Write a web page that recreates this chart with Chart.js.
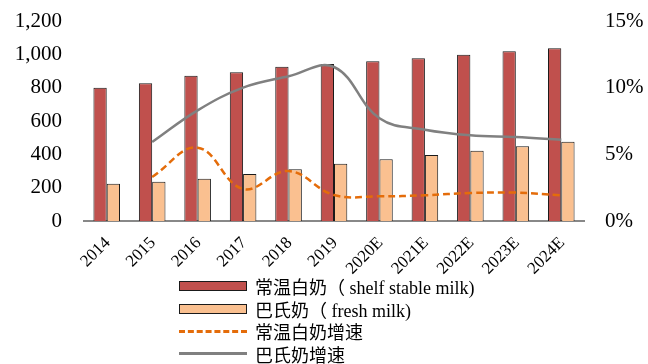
<!DOCTYPE html>
<html>
<head>
<meta charset="utf-8">
<script src="https://cdn.jsdelivr.net/npm/chart.js@4/dist/chart.umd.min.js"></script>
<style>
  html, body { margin: 0; padding: 0; background: #fff; }
  #wrap { position: relative; width: 648px; height: 364px; }
  #legend {
    position: absolute; left: 179px; top: 275px;
    font-family: 'Liberation Serif', 'Noto Sans CJK SC', serif; font-size: 18px; color: #000;
  }
  #legend .row { display: flex; align-items: center; height: 22.5px; white-space: nowrap; }
  #legend .sw { width: 68px; margin-right: 8px; box-sizing: border-box; }
</style>
</head>
<body>
<div id="wrap">
  <canvas id="chart" width="648" height="364"></canvas>
  <div id="legend"></div>
</div>
<script>
// values
const years = ['2014', '2015', '2016', '2017', '2018', '2019', '2020E', '2021E', '2022E', '2023E', '2024E'];
const shelfMilk = [800, 826, 872, 892, 926, 942, 958, 976, 998, 1018, 1036];
const freshMilk = [224, 236, 254, 282, 310, 344, 370, 396, 422, 448, 476];
const shelfGrowth = [null, 3.3, 5.5, 2.4, 3.75, 1.95, 1.85, 1.93, 2.1, 2.13, 1.93];
const freshGrowth = [null, 5.93, 8.3, 10.0, 10.85, 11.55, 7.7, 6.85, 6.43, 6.3, 6.1];

const serif = "'Liberation Serif', 'Noto Sans CJK SC', serif";

// fixed axis widths, and drop the tick padding chart.js adds above the top label
const fitY = (w) => (s) => {
  s.width = w;
  s.paddingTop = 11;
  s.paddingBottom = 0;
};

const ctx = document.getElementById('chart').getContext('2d');
const chart = new Chart(ctx, {
  type: 'bar',
  data: {
    labels: years,
    datasets: [
      {
        label: '常温白奶（ shelf stable milk)',
        data: shelfMilk,
        backgroundColor: '#C0504D',
        borderColor: '#1a1a1a',
        borderWidth: 1,
        barPercentage: 1,
        categoryPercentage: 0.585,
        yAxisID: 'y',
        order: 2,
      },
      {
        label: '巴氏奶（ fresh milk)',
        data: freshMilk,
        backgroundColor: '#FAC090',
        borderColor: '#1a1a1a',
        borderWidth: 1,
        barPercentage: 1,
        categoryPercentage: 0.585,
        yAxisID: 'y',
        order: 2,
      },
      {
        type: 'line',
        label: '常温白奶增速',
        data: shelfGrowth,
        borderColor: '#E46C0A',
        borderWidth: 2.5,
        borderDash: [7, 4],
        pointRadius: 0,
        tension: 0.4,
        fill: false,
        yAxisID: 'y1',
        order: 1,
      },
      {
        type: 'line',
        label: '巴氏奶增速',
        data: freshGrowth,
        borderColor: '#808080',
        borderWidth: 2.5,
        pointRadius: 0,
        tension: 0.4,
        fill: false,
        yAxisID: 'y1',
        order: 0,
      },
    ],
  },
  options: {
    responsive: false,
    animation: false,
    layout: { padding: { top: 21, bottom: 83, left: 0, right: 0 } },
    plugins: { legend: { display: false }, tooltip: { enabled: false } },
    scales: {
      x: {
        grid: { display: false, drawTicks: false },
        border: { display: true, color: '#888', width: 2 },
        ticks: {
          font: { family: serif, size: 17 },
          color: '#000',
          minRotation: 45,
          maxRotation: 45,
          autoSkip: false,
          padding: 12,
          labelOffset: 1,
        },
        afterFit: (s) => { s.height = 60; },
      },
      y: {
        position: 'left',
        min: 0,
        max: 1200,
        grid: { display: false, drawTicks: false },
        border: { display: false },
        ticks: {
          stepSize: 200,
          padding: 22,
          color: '#000',
          font: { family: serif, size: 21 },
          callback: (v) => Number(v).toLocaleString('en-US'),
        },
        afterFit: fitY(84),
      },
      y1: {
        position: 'right',
        min: 0,
        max: 15,
        grid: { display: false, drawTicks: false },
        border: { display: false },
        ticks: {
          stepSize: 5,
          padding: 21,
          color: '#000',
          font: { family: serif, size: 21 },
          callback: (v) => v + '%',
        },
        afterFit: fitY(64),
      },
    },
  },
});

// legend in a single column under the chart, built from the datasets
const legendEl = document.getElementById('legend');
chart.data.datasets.forEach((ds) => {
  const row = document.createElement('div');
  row.className = 'row';
  const sw = document.createElement('div');
  sw.className = 'sw';
  if (ds.type === 'line') {
    sw.style.height = '0';
    sw.style.borderTop = '3px ' + (ds.borderDash ? 'dashed ' : 'solid ') + ds.borderColor;
  } else {
    sw.style.height = '10px';
    sw.style.background = ds.backgroundColor;
    sw.style.border = '1px solid #1a1a1a';
  }
  const txt = document.createElement('span');
  txt.textContent = ds.label;
  row.appendChild(sw);
  row.appendChild(txt);
  legendEl.appendChild(row);
});
</script>
</body>
</html>
